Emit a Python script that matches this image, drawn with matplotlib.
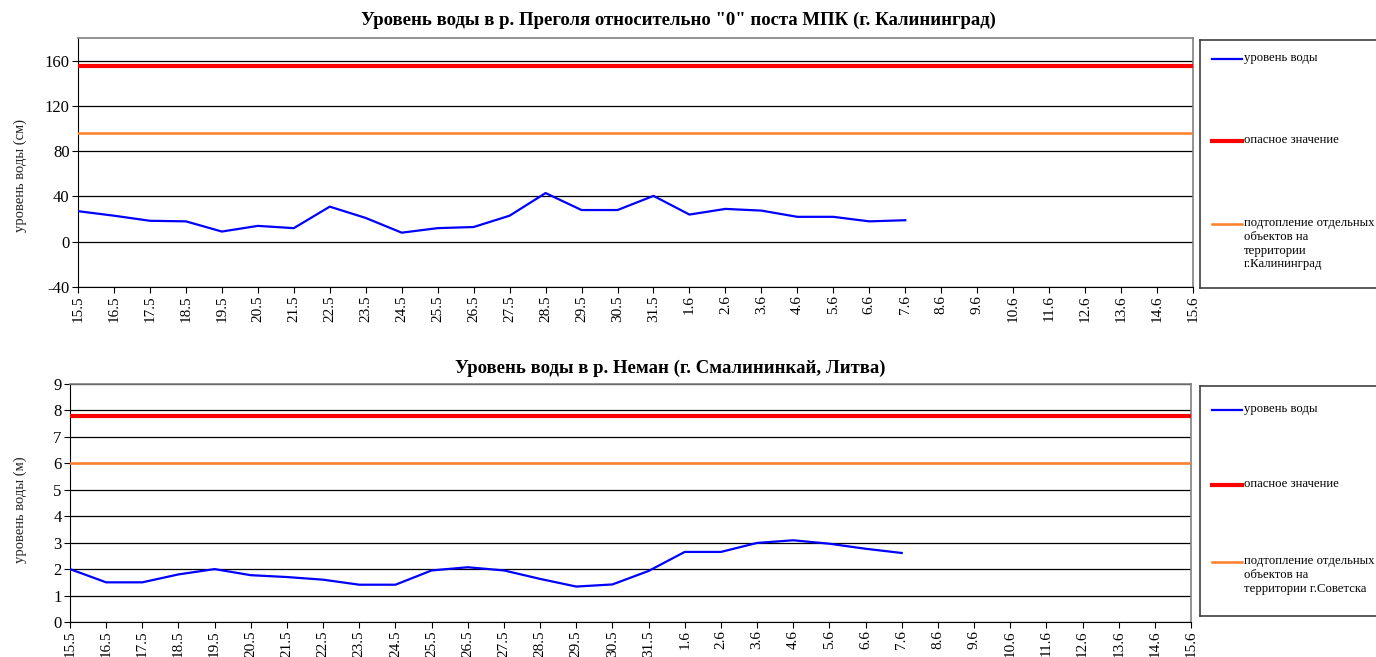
import matplotlib
matplotlib.use("Agg")
import matplotlib.pyplot as plt
from matplotlib.lines import Line2D

plt.rcParams['font.family'] = ['Liberation Serif', 'DejaVu Serif']
plt.rcParams['axes.unicode_minus'] = False

# Dates (day.month)
dates = ['15.5', '16.5', '17.5', '18.5', '19.5', '20.5', '21.5', '22.5', '23.5',
         '24.5', '25.5', '26.5', '27.5', '28.5', '29.5', '30.5', '31.5',
         '1.6', '2.6', '3.6', '4.6', '5.6', '6.6', '7.6', '8.6', '9.6', '10.6',
         '11.6', '12.6', '13.6', '14.6', '15.6']

# Pregolya, Kaliningrad (cm)
pregolya = [27, 23, 18.5, 18, 9, 14, 12, 31, 21, 8, 12, 13, 23, 43, 28, 28, 40.5,
            24, 29, 27.5, 22, 22, 18, 19]
pregolya_danger = 155
pregolya_flood = 96

# Neman, Smalininkai (m)
neman = [2.0, 1.5, 1.5, 1.8, 2.0, 1.77, 1.7, 1.6, 1.41, 1.41, 1.95, 2.07, 1.95,
         1.63, 1.34, 1.42, 1.93, 2.65, 2.65, 2.99, 3.09, 2.96, 2.77, 2.61]
neman_danger = 7.8
neman_flood = 6.0

W, H = 1376, 657
fig = plt.figure(figsize=(W / 100, H / 100), dpi=100)


def box(x0, y0, x1, y1):
    # pixel box (top-left origin) -> figure fraction rect
    return [x0 / W, 1 - y1 / H, (x1 - x0) / W, (y1 - y0) / H]


def draw_chart(ax_rect, leg_rect, title, title_xy, ylabel, ylabel_xy, values,
               danger, flood, ylim, yticks, flood_label, line_ys):
    ax = fig.add_axes(box(*ax_rect))
    x = list(range(len(values)))
    full = list(range(len(dates)))
    for yt in yticks:
        ax.axhline(yt, color='black', lw=0.9, zorder=1)
    ax.plot(full, [danger] * len(full), color='#FF0000', lw=3, zorder=3)
    ax.plot(full, [flood] * len(full), color='#FF7F27', lw=1.8, zorder=3)
    ax.plot(x, values, color='#0000FF', lw=1.6, zorder=4)
    ax.set_xlim(0, len(dates) - 1)
    ax.set_ylim(*ylim)
    ax.set_yticks(yticks)
    ax.set_xticks(full)
    ax.set_xticklabels(dates, rotation=90, fontsize=11)
    ax.tick_params(axis='y', labelsize=12, length=4, pad=2)
    ax.tick_params(axis='x', length=4, pad=2)
    for s in ('top', 'right'):
        ax.spines[s].set_color('#808080')
        ax.spines[s].set_linewidth(1.2)
    for s in ('left', 'bottom'):
        ax.spines[s].set_color('black')
    fig.text(title_xy[0] / W, 1 - title_xy[1] / H, title, ha='center', va='center',
             fontsize=13.5, fontweight='bold')
    fig.text(ylabel_xy[0] / W, 1 - ylabel_xy[1] / H, ylabel, ha='center', va='center',
             rotation=90, fontsize=10.5, color='#222222')

    # legend box
    lax = fig.add_axes(box(*leg_rect))
    lax.set_xlim(leg_rect[0], leg_rect[2])
    lax.set_ylim(leg_rect[3], leg_rect[1])
    lax.set_xticks([])
    lax.set_yticks([])
    for s in lax.spines.values():
        s.set_color('#404040')
        s.set_linewidth(1.2)
    lax.spines['right'].set_visible(False)
    entries = [('уровень воды', '#0000FF', 1.6), ('опасное значение', '#FF0000', 3),
               (flood_label, '#FF7F27', 1.8)]
    for (lab, col, lw), yy in zip(entries, line_ys):
        lax.add_line(Line2D([1212, 1242], [yy, yy], color=col, lw=lw))
        lax.text(1244, yy - 7, lab, ha='left', va='top', fontsize=9.2,
                 linespacing=1.2, clip_on=False)
    return ax


draw_chart((78, 38, 1193, 287), (1200, 40, 1390, 288),
           'Уровень воды в р. Преголя относительно "0" поста МПК (г. Калининград)',
           (678, 20),
           'уровень воды (см)', (20, 176), pregolya, pregolya_danger, pregolya_flood,
           (-40, 180), [-40, 0, 40, 80, 120, 160],
           'подтопление отдельных\nобъектов на\nтерритории\nг.Калининград',
           [59, 141, 224])

draw_chart((70, 384, 1191, 622), (1200, 386, 1390, 616),
           'Уровень воды в р. Неман (г. Смалининкай, Литва)', (670, 368),
           'уровень воды (м)', (20, 510), neman, neman_danger, neman_flood,
           (0, 9), list(range(10)),
           'подтопление отдельных\nобъектов на\nтерритории г.Советска',
           [410, 485, 562])

fig.savefig('out.png', dpi=100)
